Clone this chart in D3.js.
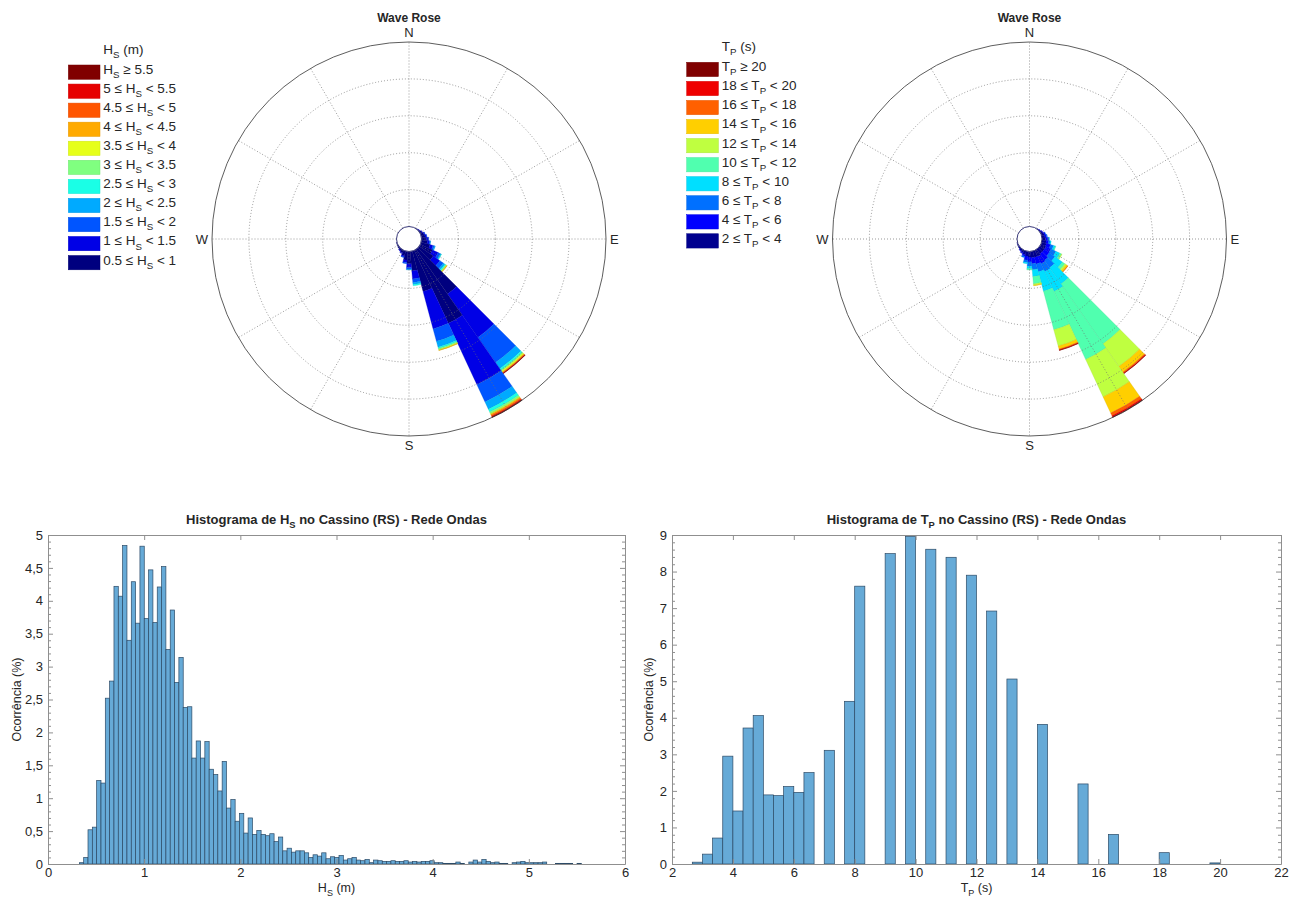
<!DOCTYPE html>
<html>
<head>
<meta charset="utf-8">
<script src="https://cdn.jsdelivr.net/npm/d3@7"></script>
<style>
  body { margin: 0; background: #fff; }
  text { font-family: "Liberation Sans", Arial, Helvetica, sans-serif; fill: #262626; }
</style>
</head>
<body>
<svg id="fig" width="1296" height="899"></svg>
<script>
// ---------- Dados ----------
// direções (graus) com ocorrência na rosa
const roseDirs = [40, 50, 60, 70, 80, 90, 100, 110, 120, 130, 140, 150, 160, 170, 180, 190, 200, 210, 220, 230, 240, 250];
const roseRings = [6, 12, 18, 24, 30]; // %

// classes de Hs (m) e cores
const hsBreaks = [0.5, 1, 1.5, 2, 2.5, 3, 3.5, 4, 4.5, 5, 5.5];
const hsColors = ["#00007f", "#0000e6", "#0055ff", "#00aaff", "#1affe6", "#80ff80", "#e6ff1a", "#ffaa00", "#ff5500", "#e60000", "#800000"];
// ocorrência (%) por direção, da menor para a maior classe
const hsRose = [
  [0.1],
  [0.15, 0.05],
  [0.3, 0.1],
  [0.5, 0.15, 0.05],
  [0.6, 0.25, 0.05],
  [0.8, 0.3, 0.1],
  [1.0, 0.3, 0.15, 0.05],
  [1.5, 0.5, 0.25, 0.15],
  [2.2, 1.0, 0.4, 0.15, 0.05],
  [2.8, 1.3, 0.7, 0.3, 0.2, 0.1, 0.1, 0.05],
  [8.9, 8.6, 5.0, 1.2, 0.3, 0.2, 0.2, 0.1, 0.1, 0.05, 0.05],
  [13.1, 11.0, 3.1, 1.3, 0.5, 0.3, 0.1, 0.2, 0.2, 0.1, 0.1],
  [6.8, 6.3, 2.1, 1.0, 0.2, 0.2, 0.1, 0.05],
  [3.2, 1.3, 0.6, 0.3, 0.2],
  [2.0, 0.6, 0.3, 0.1],
  [1.4, 0.4, 0.2],
  [0.8, 0.2, 0.1],
  [0.45, 0.15],
  [0.3, 0.1],
  [0.2],
  [0.15],
  [0.1]
];

// classes de Tp (s) e cores
const tpBreaks = [2, 4, 6, 8, 10, 12, 14, 16, 18, 20];
const tpColors = ["#00008f", "#0000ff", "#0070ff", "#00dfff", "#50ffaf", "#bfff40", "#ffcf00", "#ff6000", "#ef0000", "#800000"];
const tpRose = [
  [0.1],
  [0.15, 0.05],
  [0.3, 0.1],
  [0.45, 0.2, 0.05],
  [0.5, 0.25, 0.15],
  [0.6, 0.35, 0.2, 0.05],
  [0.7, 0.4, 0.25, 0.15],
  [0.8, 0.7, 0.5, 0.3, 0.1],
  [0.9, 0.9, 0.9, 0.7, 0.3, 0.1],
  [0.9, 1.0, 1.1, 1.5, 0.5, 0.3, 0.25, 0.05],
  [0.9, 1.3, 1.46, 3.24, 11.9, 4.5, 1.1, 0.2, 0.08, 0.02],
  [1.1, 1.3, 1.4, 3.6, 12.2, 6.7, 2.9, 0.5, 0.2, 0.1],
  [1.06, 1.14, 1.3, 3.25, 6.5, 2.75, 0.5, 0.15, 0.05, 0.02],
  [1.06, 0.94, 1.0, 1.1, 1.2, 0.2, 0.1],
  [0.9, 0.8, 0.7, 0.4, 0.2],
  [0.8, 0.6, 0.4, 0.2],
  [0.6, 0.3, 0.2],
  [0.4, 0.2],
  [0.3, 0.1],
  [0.2],
  [0.15],
  [0.1]
];

// histograma de Hs: início do primeiro bin, largura, ocorrência (%)
const hsBinStart = 0.326;
const hsBinWidth = 0.045;
const hsPct = [
  0.02, 0.10, 0.52, 0.56, 1.27, 1.23, 2.52, 2.78, 4.22, 4.07,
  4.84, 3.40, 4.29, 3.66, 4.83, 3.73, 4.47, 3.67, 4.21, 4.52,
  3.26, 3.86, 2.76, 3.14, 2.38, 2.39, 1.61, 1.87, 1.61, 1.86,
  1.44, 1.36, 1.11, 1.56, 0.85, 0.98, 0.65, 0.77, 0.47, 0.70,
  0.45, 0.51, 0.45, 0.43, 0.46, 0.34, 0.41, 0.20, 0.24, 0.18,
  0.20, 0.20, 0.17, 0.10, 0.14, 0.12, 0.17, 0.08, 0.11, 0.10,
  0.13, 0.06, 0.08, 0.10, 0.06, 0.05, 0.07, 0.02, 0.06, 0.05,
  0.04, 0.04, 0.05, 0.04, 0.04, 0.05, 0.03, 0.04, 0.03, 0.04,
  0.04, 0.05, 0.02, 0.02, 0.01, 0.01, 0.01, 0.03, 0.01, 0.00,
  0.03, 0.06, 0.03, 0.07, 0.04, 0.02, 0.03, 0.01, 0.01, 0.00,
  0.02, 0.03, 0.04, 0.02, 0.02, 0.02, 0.02, 0.03, 0.00, 0.00,
  0.01, 0.01, 0.01, 0.01, 0.00, 0.01
];
const hsXTicks = [0, 1, 2, 3, 4, 5, 6];
const hsYTicks = [0, 0.5, 1, 1.5, 2, 2.5, 3, 3.5, 4, 4.5, 5];

// histograma de Tp
const tpBinStart = 2.6667;
const tpBinWidth = 0.3333;
const tpPct = [
  0.05, 0.27, 0.71, 2.95, 1.45, 3.72, 4.06, 1.89, 1.87, 2.12,
  1.96, 2.50, 0, 3.11, 0, 4.45, 7.60, 0, 0, 8.49,
  0, 8.96, 0, 8.61, 0, 8.39, 0, 7.90, 0, 6.92,
  0, 5.06, 0, 0, 3.82, 0, 0, 0, 2.19, 0,
  0, 0.81, 0, 0, 0, 0, 0.31, 0, 0, 0,
  0, 0.03
];
const tpXTicks = [2, 4, 6, 8, 10, 12, 14, 16, 18, 20, 22];
const tpYTicks = [0, 1, 2, 3, 4, 5, 6, 7, 8, 9];

// ---------- Figura ----------
const svg = d3.select("#fig");

// texto com subscrito: partes = strings ou {sub: "S"}
function richText(g, x, y, parts, size, anchor) {
  const t = g.append("text")
    .attr("x", x).attr("y", y)
    .attr("font-size", size)
    .attr("text-anchor", anchor || "start");
  let shifted = false;
  parts.forEach(p => {
    if (typeof p === "string") {
      t.append("tspan").attr("dy", shifted ? -size * 0.3 : 0).text(p);
      shifted = false;
    } else {
      t.append("tspan").attr("dy", size * 0.3).attr("font-size", size * 0.72).text(p.sub);
      shifted = true;
    }
  });
  return t;
}

function waveRose(cfg) {
  const { cx, cy, data, colors, breaks, varName, sub, unit, legX, legTop } = cfg;
  const R = 197, r0 = 12.5;
  const g = svg.append("g");
  const r = d3.scaleLinear().domain([0, d3.max(roseRings)]).range([r0, R]);
  const rad = Math.PI / 180;

  // fatias
  roseDirs.forEach((dir, i) => {
    let cum = 0;
    data[i].forEach((v, c) => {
      const arc = d3.arc()
        .innerRadius(r(cum)).outerRadius(r(cum + v))
        .startAngle((dir - 5) * rad).endAngle((dir + 5) * rad);
      g.append("path")
        .attr("transform", `translate(${cx},${cy})`)
        .attr("d", arc())
        .attr("fill", colors[c])
        .attr("stroke", d3.color(colors[c]).darker(0.5))
        .attr("stroke-width", 0.3);
      cum += v;
    });
  });

  // grade
  roseRings.slice(0, -1).forEach(v => {
    g.append("circle").attr("cx", cx).attr("cy", cy).attr("r", r(v))
      .attr("fill", "none").attr("stroke", "#6e6e6e").attr("stroke-width", 0.7)
      .attr("stroke-dasharray", "1,2");
  });
  d3.range(0, 360, 30).forEach(a => {
    g.append("line")
      .attr("x1", cx + r0 * Math.sin(a * rad)).attr("y1", cy - r0 * Math.cos(a * rad))
      .attr("x2", cx + R * Math.sin(a * rad)).attr("y2", cy - R * Math.cos(a * rad))
      .attr("stroke", "#6e6e6e").attr("stroke-width", 0.7).attr("stroke-dasharray", "1,2");
  });
  g.append("circle").attr("cx", cx).attr("cy", cy).attr("r", R)
    .attr("fill", "none").attr("stroke", "#333").attr("stroke-width", 0.8);
  g.append("circle").attr("cx", cx).attr("cy", cy).attr("r", r0)
    .attr("fill", "#fff").attr("stroke", "#3a3a7a").attr("stroke-width", 1);

  // pontos cardeais
  g.append("text").attr("x", cx).attr("y", cy - R - 5).attr("text-anchor", "middle").attr("font-size", 13).text("N");
  g.append("text").attr("x", cx).attr("y", cy + R + 14).attr("text-anchor", "middle").attr("font-size", 13).text("S");
  g.append("text").attr("x", cx + R + 4).attr("y", cy + 5).attr("font-size", 13).text("E");
  g.append("text").attr("x", cx - R - 4).attr("y", cy + 5).attr("text-anchor", "end").attr("font-size", 13).text("W");
  g.append("text").attr("x", cx).attr("y", 22).attr("text-anchor", "middle")
    .attr("font-size", 12).attr("font-weight", "bold").text("Wave Rose");

  // legenda
  const n = breaks.length;
  const fs = 13.5;
  richText(g, legX + 35, legTop - 11, [varName, { sub: sub }, ` (${unit})`], fs);
  d3.range(n).forEach(k => {
    const c = n - 1 - k;
    const y0 = legTop + k * 19.05;
    g.append("rect").attr("x", legX).attr("y", y0).attr("width", 31.7).attr("height", 14.3)
      .attr("fill", colors[c]).attr("stroke", d3.color(colors[c]).darker(0.3)).attr("stroke-width", 0.5);
    const parts = c === n - 1
      ? [varName, { sub: sub }, ` \u2265 ${breaks[c]}`]
      : [`${breaks[c]} \u2264 ${varName}`, { sub: sub }, ` < ${breaks[c + 1]}`];
    richText(g, legX + 35, y0 + 9, parts, fs);
  });
}

waveRose({ cx: 409, cy: 239, data: hsRose, colors: hsColors, breaks: hsBreaks,
  varName: "H", sub: "S", unit: "m", legX: 68.3, legTop: 65 });
waveRose({ cx: 1029.5, cy: 239, data: tpRose, colors: tpColors, breaks: tpBreaks,
  varName: "T", sub: "P", unit: "s", legX: 686.7, legTop: 62.3 });

function histogram(cfg) {
  const { left, right, top, bottom, xTicks, yTicks, yMinor, start, width, values, varName, sub, unit, ylabX } = cfg;
  const g = svg.append("g");
  const x = d3.scaleLinear().domain(d3.extent(xTicks)).range([left, right]);
  const y = d3.scaleLinear().domain(d3.extent(yTicks)).range([bottom, top]);
  const fmt = d => String(d).replace(".", ",");
  const axisCol = "#8f8f8f";

  const bins = values.map((v, i) => ({ x0: start + i * width, x1: start + (i + 1) * width, v }))
    .filter(d => d.v > 0);
  g.selectAll(".bar").data(bins).enter().append("rect")
    .attr("class", "bar")
    .attr("x", d => x(d.x0))
    .attr("width", d => x(d.x1) - x(d.x0))
    .attr("y", d => y(d.v))
    .attr("height", d => y(0) - y(d.v))
    .attr("fill", "#66aad7")
    .attr("stroke", "#2c4a66")
    .attr("stroke-width", 0.7);

  const minor = d3.range(yTicks[0], yTicks[yTicks.length - 1] + 1e-9, yMinor).filter(v => !yTicks.some(t => Math.abs(t - v) < 1e-6));

  const style = a => {
    a.select(".domain").attr("stroke", axisCol);
    a.selectAll(".tick line").attr("stroke", axisCol);
    a.selectAll(".tick text").attr("font-size", 13).attr("fill", "#262626");
  };
  g.append("g").attr("transform", `translate(0,${bottom})`)
    .call(d3.axisBottom(x).tickValues(xTicks).tickFormat(fmt).tickSizeInner(-5).tickSizeOuter(0).tickPadding(4)).call(style);
  g.append("g").attr("transform", `translate(0,${top})`)
    .call(d3.axisTop(x).tickValues(xTicks).tickFormat("").tickSizeInner(-5).tickSizeOuter(0)).call(style);
  g.append("g").attr("transform", `translate(${left},0)`)
    .call(d3.axisLeft(y).tickValues(yTicks).tickFormat(fmt).tickSizeInner(-5).tickSizeOuter(0).tickPadding(5)).call(style);
  g.append("g").attr("transform", `translate(${right},0)`)
    .call(d3.axisRight(y).tickValues(yTicks).tickFormat("").tickSizeInner(-5).tickSizeOuter(0)).call(style);
  g.append("g").attr("transform", `translate(${left},0)`)
    .call(d3.axisLeft(y).tickValues(minor).tickFormat("").tickSizeInner(-3).tickSizeOuter(0)).call(style)
    .select(".domain").remove();
  g.append("g").attr("transform", `translate(${right},0)`)
    .call(d3.axisRight(y).tickValues(minor).tickFormat("").tickSizeInner(-3).tickSizeOuter(0)).call(style)
    .select(".domain").remove();

  const mid = (left + right) / 2;
  richText(g, mid, top - 11, [`Histograma de ${varName}`, { sub: sub }, " no Cassino (RS) - Rede Ondas"], 13, "middle")
    .attr("font-weight", "bold");
  richText(g, mid, bottom + 28, [varName, { sub: sub }, ` (${unit})`], 12.5, "middle");
  g.append("text")
    .attr("transform", `translate(${ylabX},${(top + bottom) / 2}) rotate(-90)`)
    .attr("text-anchor", "middle").attr("font-size", 12.5)
    .text("Ocorrência (%)");
}

histogram({ left: 48, right: 625, top: 535, bottom: 864, xTicks: hsXTicks, yTicks: hsYTicks, yMinor: 0.1,
  start: hsBinStart, width: hsBinWidth, values: hsPct, varName: "H", sub: "S", unit: "m", ylabX: 21 });
histogram({ left: 672, right: 1281, top: 535, bottom: 864, xTicks: tpXTicks, yTicks: tpYTicks, yMinor: 0.2,
  start: tpBinStart, width: tpBinWidth, values: tpPct, varName: "T", sub: "P", unit: "s", ylabX: 653 });
</script>
</body>
</html>
